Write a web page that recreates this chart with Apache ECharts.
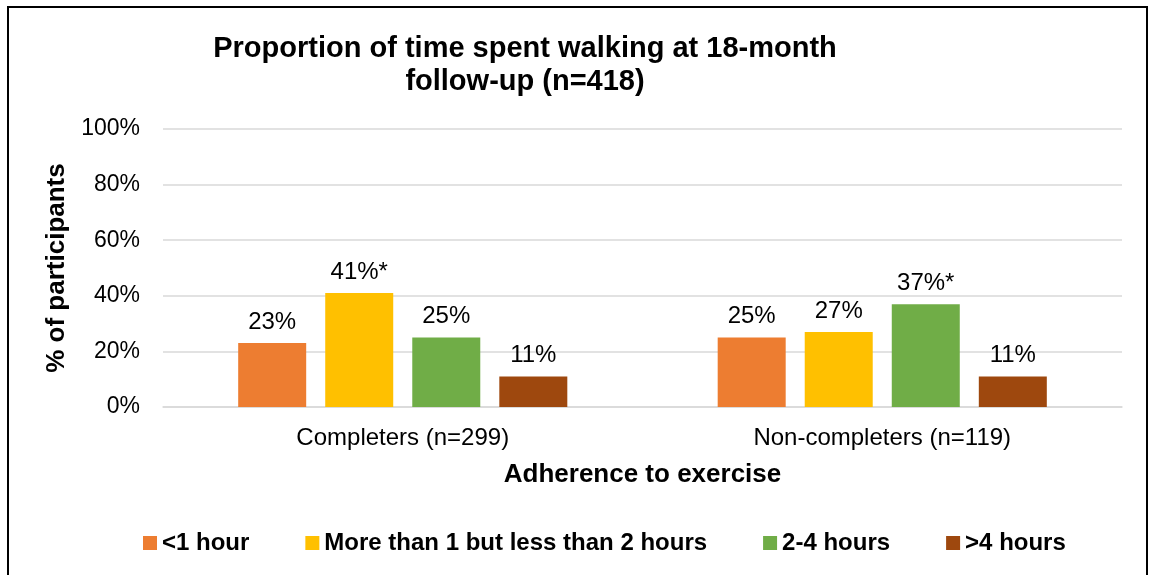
<!DOCTYPE html>
<html>
<head>
<meta charset="utf-8">
<script src="https://cdn.jsdelivr.net/npm/echarts@6/dist/echarts.min.js"></script>
<style>
  html, body { margin: 0; padding: 0; background: #fff; }
  #chart { width: 1152px; height: 575px; }
</style>
</head>
<body>
<div id="chart"></div>
<script>
const categories = ['Completers (n=299)', 'Non-completers (n=119)']
const seriesNames = ['<1 hour', 'More than 1 but less than 2 hours', '2-4 hours', '>4 hours']
const lessThan1 = [23, 25]
const oneToTwo = [41, 27]
const twoToFour = [25, 37]
const moreThan4 = [11, 11]
// significance markers shown after the value
const marks = [['', ''], ['*', ''], ['', '*'], ['', '']]
const yTicks = [0, 20, 40, 60, 80, 100]
const colors = ['#ED7D31', '#FFC000', '#70AD47', '#9E480E']

const font = '"Liberation Sans", Arial, sans-serif'
const chart = echarts.init(document.getElementById('chart'))

const values = [lessThan1, oneToTwo, twoToFour, moreThan4]
const series = values.map((data, i) => ({
  name: seriesNames[i],
  type: 'bar',
  data: data,
  barWidth: 68,
  barGap: '28%',
  itemStyle: { color: colors[i] },
  label: {
    show: true,
    position: 'top',
    distance: 9,
    fontFamily: font,
    fontSize: 24,
    color: '#000',
    formatter: p => p.value + '%' + marks[i][p.dataIndex]
  }
}))

const options = {
  animation: false,
  backgroundColor: '#fff',
  textStyle: { fontFamily: font },
  title: {
    text: 'Proportion of time spent walking at 18-month\nfollow-up (n=418)',
    left: 520,
    top: 27,
    textAlign: 'center',
    textStyle: {
      fontFamily: font,
      fontSize: 29,
      fontWeight: 'bold',
      color: '#000',
      lineHeight: 33
    }
  },
  legend: {
    bottom: 15,
    left: 138,
    icon: 'rect',
    itemWidth: 14,
    itemHeight: 14,
    itemGap: 56,
    textStyle: { fontFamily: font, fontSize: 24, fontWeight: 'bold', color: '#000' },
    data: seriesNames
  },
  grid: {
    left: 163,
    right: 30,
    top: 129,
    bottom: 168,
    containLabel: false
  },
  xAxis: {
    type: 'category',
    data: categories,
    name: 'Adherence to exercise',
    nameLocation: 'middle',
    nameGap: 55,
    nameTextStyle: { fontFamily: font, fontSize: 26, fontWeight: 'bold', color: '#000' },
    axisTick: { show: false },
    axisLine: { lineStyle: { color: '#D9D9D9', width: 1.5 } },
    axisLabel: { fontFamily: font, fontSize: 24, color: '#000', margin: 19 }
  },
  yAxis: {
    type: 'value',
    min: yTicks[0],
    max: yTicks[yTicks.length - 1],
    interval: 20,
    name: '% of participants',
    nameLocation: 'middle',
    nameGap: 84,
    nameTextStyle: { fontFamily: font, fontSize: 26, fontWeight: 'bold', color: '#000' },
    axisLine: { show: false },
    axisTick: { show: false },
    splitLine: { lineStyle: { color: '#D9D9D9', width: 1.5 } },
    axisLabel: {
      fontFamily: font,
      fontSize: 23,
      color: '#000',
      margin: 23,
      formatter: v => v + '%'
    }
  },
  graphic: [
    {
      type: 'rect',
      shape: { x: 8, y: 7, width: 1139, height: 620 },
      style: { fill: 'none', stroke: '#000', lineWidth: 2 },
      silent: true
    }
  ],
  series: series
}

chart.setOption(options)
</script>
</body>
</html>
